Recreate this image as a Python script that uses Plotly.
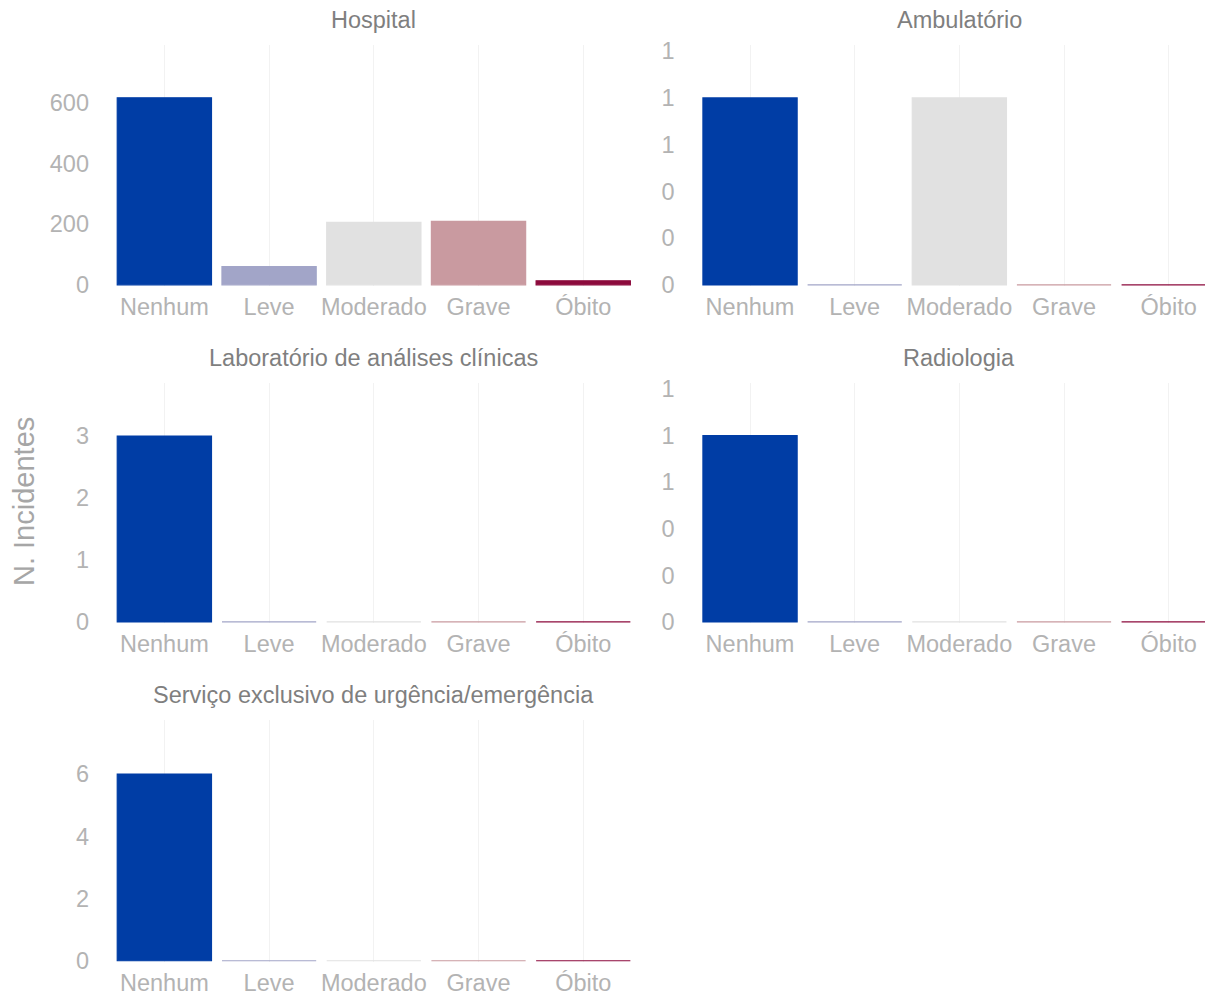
import plotly.graph_objects as go

categories = ["Nenhum", "Leve", "Moderado", "Grave", "Óbito"]
bar_colors = ["#003DA5", "#A2A5C8", "#E1E1E1", "#C99AA0", "#8C0A3C"]

panels = ["Hospital", "Ambulatório", "Laboratório de análises clínicas", "Radiologia",
          "Serviço exclusivo de urgência/emergência"]
hospital = [617, 60, 206, 209, 13]
ambulatorio = [1, 0, 1, 0, 0]
laboratorio = [3, 0, 0, 0, 0]
radiologia = [1, 0, 0, 0, 0]
servico = [6, 0, 0, 0, 0]
values = [hospital, ambulatorio, laboratorio, radiologia, servico]

hosp_ticks = [0, 200, 400, 600]
amb_ticks = [0, 0.25, 0.5, 0.75, 1, 1.25]
amb_ticklabels = ["0", "0", "0", "1", "1", "1"]
lab_ticks = [0, 1, 2, 3]
serv_ticks = [0, 2, 4, 6]

W, H = 1213, 996
def px_x(p): return p / W
def px_y(p): return 1 - p / H

# layout geometry (pixels, figure coordinates; page adds an 8px body margin)
x_doms = [(104, 627.6), (689.7, 1213)]
row_doms = [(37, 278), (375, 615), (712, 954)]
x_ranges = [[-0.5, 4.5], [-0.5, 4.5]]
y_ranges = [[-4, 791], [-0.006, 1.283], [-0.018, 3.855], [-0.006, 1.283], [-0.04, 7.74]]
y_tickvals = [hosp_ticks, amb_ticks, lab_ticks, amb_ticks, serv_ticks]
y_ticktext = [[str(t) for t in hosp_ticks], amb_ticklabels, [str(t) for t in lab_ticks],
              amb_ticklabels, [str(t) for t in serv_ticks]]

tick_font = dict(family="Liberation Sans, Arial, sans-serif", size=23.5, color="#B3B3B3")
title_font = dict(family="Liberation Sans, Arial, sans-serif", size=23.5, color="#7F7F7F")

fig = go.Figure()
layout = dict(width=W, height=H, margin=dict(l=0, r=0, t=0, b=0, autoexpand=False),
              paper_bgcolor="white", plot_bgcolor="white", showlegend=False,
              bargap=0.1)
annotations = []
for i, (name, vals) in enumerate(zip(panels, values)):
    row, col = divmod(i, 2)
    n = i + 1
    xa = "x" if n == 1 else f"x{n}"
    ya = "y" if n == 1 else f"y{n}"
    fig.add_trace(go.Bar(x=categories, y=vals, xaxis=xa, yaxis=ya,
                         marker=dict(color=bar_colors,
                                     line=dict(color=bar_colors, width=1.2)),
                         width=0.9, hoverinfo="x+y"))
    xd = x_doms[col]
    rd = row_doms[row]
    layout["xaxis" if n == 1 else f"xaxis{n}"] = dict(
        domain=[px_x(xd[0]), px_x(xd[1])], anchor=ya, range=x_ranges[col],
        type="category", showgrid=True, gridcolor="#F2F2F2", gridwidth=1.2,
        showline=False, zeroline=False, ticks="", tickfont=tick_font,
        ticklabelstandoff=4, automargin=False)
    layout["yaxis" if n == 1 else f"yaxis{n}"] = dict(
        domain=[px_y(rd[1]), px_y(rd[0])], anchor=xa, range=y_ranges[i],
        tickvals=y_tickvals[i], ticktext=y_ticktext[i],
        showgrid=False, zeroline=False, showline=False, ticks="",
        tickfont=tick_font, ticklabelstandoff=22, automargin=False)
    annotations.append(dict(text=name, x=px_x((xd[0] + xd[1]) / 2),
                            y=px_y(rd[0] - 25), xref="paper", yref="paper",
                            showarrow=False, font=title_font,
                            xanchor="center", yanchor="middle"))

annotations.append(dict(text="N. Incidentes", x=px_x(16), y=px_y(494), xref="paper", yref="paper",
                        showarrow=False, textangle=-90,
                        font=dict(family="Liberation Sans, Arial, sans-serif", size=29, color="#A6A6A6"),
                        xanchor="center", yanchor="middle"))
layout["annotations"] = annotations
fig.update_layout(**layout)
fig.write_html("out.html")
